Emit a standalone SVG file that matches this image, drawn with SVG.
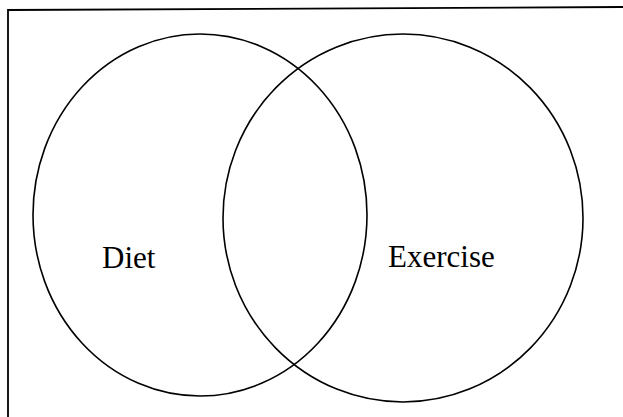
<svg xmlns="http://www.w3.org/2000/svg" width="623" height="417" viewBox="0 0 623 417">
<style>
.ring{fill:none;stroke:#000;stroke-width:1.6}
.frame{fill:none;stroke:#000;stroke-width:1.8}
.lbl{font-family:"Liberation Serif","Times New Roman",serif;font-size:31px;fill:#000}
</style>
<rect width="623" height="417" fill="#fff"/>
<polyline class="frame" points="8,417 8,10 623,7"/>
<g id="diet">
<ellipse class="ring" cx="200" cy="215" rx="167" ry="181"/>
<text class="lbl" x="102" y="268">Diet</text>
</g>
<g id="exercise">
<ellipse class="ring" cx="403" cy="218" rx="180" ry="184"/>
<text class="lbl" x="388" y="267">Exercise</text>
</g>
<g id="connectors"/>
</svg>
